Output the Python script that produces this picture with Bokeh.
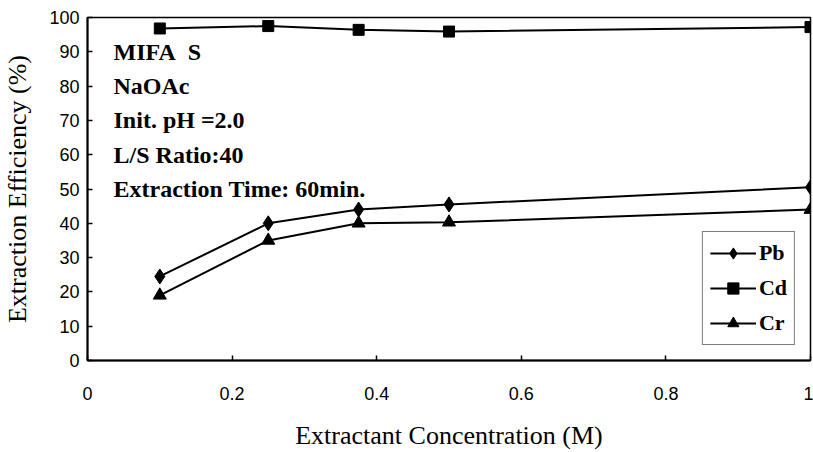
from bokeh.plotting import figure
from bokeh.models import FixedTicker, Legend, LegendItem
from bokeh.core.properties import value
from bokeh.embed import file_html
from bokeh.resources import INLINE

# ---- data ----
conc = [0.1, 0.25, 0.375, 0.5, 1.0]
pb = [24.5, 40.0, 44.0, 45.5, 50.5]
cd = [96.8, 97.5, 96.4, 95.9, 97.2]
cr = [19.0, 35.0, 40.0, 40.3, 44.0]

x_ticks = [0, 0.2, 0.4, 0.6, 0.8, 1.0]
x_tick_labels = ["0", "0.2", "0.4", "0.6", "0.8", "1"]
y_ticks = [0, 10, 20, 30, 40, 50, 60, 70, 80, 90, 100]

notes = ["MIFA\u00a0\u00a0S", "NaOAc", "Init. pH =2.0", "L/S Ratio:40", "Extraction Time: 60min."]
note_y = [90, 80, 70, 60, 50]
note_x = [0.036] * len(notes)

SERIF = "Liberation Serif"
SANS = "Liberation Sans"

p = figure(width=813, height=452, output_backend="svg", toolbar_location=None,
           x_range=(0, 1), y_range=(0, 100),
           min_border_left=87, min_border_right=3, min_border_top=17, min_border_bottom=90)

p.xgrid.visible = False
p.ygrid.visible = False
p.outline_line_color = "black"
p.outline_line_width = 1.5
p.background_fill_color = "white"
p.border_fill_color = "white"

for ax in (p.xaxis[0], p.yaxis[0]):
    ax.axis_line_width = 2
    ax.axis_line_color = "black"
    ax.major_tick_in = 5
    ax.major_tick_out = 0
    ax.minor_tick_in = 0
    ax.minor_tick_out = 0
    ax.major_tick_line_width = 1.5
    ax.major_tick_line_color = "black"
    ax.major_label_text_font = SANS
    ax.major_label_text_font_size = "18px"
    ax.major_label_text_color = "black"
    ax.axis_label_text_font = SERIF
    ax.axis_label_text_font_size = "26px"
    ax.axis_label_text_font_style = "normal"
    ax.axis_label_text_color = "black"

p.xaxis.ticker = FixedTicker(ticks=x_ticks)
p.xaxis.major_label_overrides = {t: l for t, l in zip(x_ticks, x_tick_labels)}
p.yaxis.ticker = FixedTicker(ticks=y_ticks)
p.xaxis.major_label_standoff = 26
p.yaxis.major_label_standoff = 8
p.xaxis.axis_label = "Extractant Concentration (M)"
p.yaxis.axis_label = "Extraction Efficiency (%)"
p.xaxis.axis_label_standoff = 18
p.yaxis.axis_label_standoff = 14

l1 = p.line(conc, pb, line_color="black", line_width=2)
m1 = p.scatter(conc, pb, marker="diamond", size=15, fill_color="black", line_color="black")
l2 = p.line(conc, cd, line_color="black", line_width=2)
m2 = p.scatter(conc, cd, marker="square", size=11, fill_color="black", line_color="black")
l3 = p.line(conc, cr, line_color="black", line_width=2)
m3 = p.scatter(conc, cr, marker="triangle", size=13, fill_color="black", line_color="black")

p.text(x=note_x, y=note_y, text=notes, text_font=value(SERIF), text_font_style="bold",
       text_font_size="24px", text_baseline="middle", text_align="left", text_color="black")

legend = Legend(items=[
    LegendItem(label="Pb", renderers=[l1, m1]),
    LegendItem(label="Cd", renderers=[l2, m2]),
    LegendItem(label="Cr", renderers=[l3, m3]),
], location="bottom_right")
legend.margin = 15
legend.padding = 7
legend.spacing = 7
legend.glyph_width = 46
legend.glyph_height = 28
legend.label_height = 28
legend.label_standoff = 3
legend.label_text_font = SERIF
legend.label_text_font_style = "bold"
legend.label_text_font_size = "22px"
legend.label_text_color = "black"
legend.border_line_color = "black"
legend.border_line_width = 1
legend.background_fill_alpha = 1
p.add_layout(legend)

open("out.html", "w").write(file_html(p, INLINE))
